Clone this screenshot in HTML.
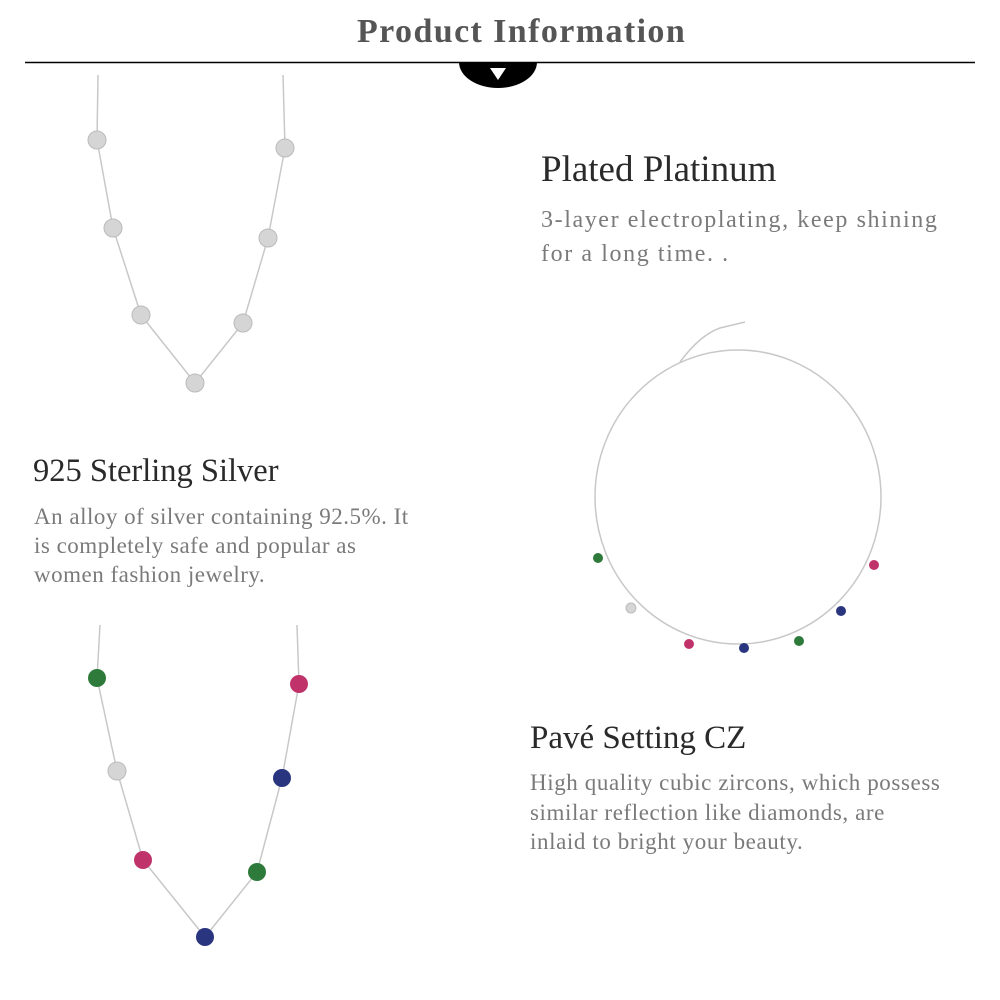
<!DOCTYPE html>
<html><head><style>
body{margin:0;width:1000px;height:1000px;background:#fff;position:relative;overflow:hidden;font-family:"Liberation Serif",serif}
.t{position:absolute;white-space:nowrap}
.h{color:#2a2a2a;font-size:37px}
.b{color:#7a7a7a;font-size:24px;line-height:34px;letter-spacing:1.6px}
</style></head><body>
<div class="t" style="left:357px;top:13px;font-size:34px;letter-spacing:1.4px;font-weight:bold;color:#555">Product Information</div>
<svg width="1000" height="1000" style="position:absolute;left:0;top:0">
<line x1="25" y1="62.5" x2="975" y2="62.5" stroke="#000" stroke-width="1.5"/>
<path d="M459 62 A39 26 0 0 0 537 62 Z" fill="#000"/>
<polygon points="490,68 506,68 498,80" fill="#fff"/>
<g stroke="#c8c8c8" stroke-width="1.5" fill="none">
<polyline points="98,75 97,140 113,228 141,315 195,383 243,323 268,238 285,148 283,75"/>
<polyline points="100,625 97,678 117,771 143,860 205,937 257,872 282,778 299,684 297,625"/>
<ellipse cx="738" cy="497" rx="143" ry="147"/>
<path d="M680 362 Q700 335 720 328 L745 322"/>
</g>
<g fill="#d5d5d5" stroke="#bbb">
<circle cx="97" cy="140" r="9"/><circle cx="113" cy="228" r="9"/><circle cx="141" cy="315" r="9"/><circle cx="195" cy="383" r="9"/><circle cx="243" cy="323" r="9"/><circle cx="268" cy="238" r="9"/><circle cx="285" cy="148" r="9"/>
<circle cx="117" cy="771" r="9"/><circle cx="631" cy="608" r="5"/>
</g>
<circle cx="97" cy="678" r="9" fill="#2e7a3a"/><circle cx="143" cy="860" r="9" fill="#c0336a"/><circle cx="205" cy="937" r="9" fill="#2a3580"/><circle cx="257" cy="872" r="9" fill="#2e7a3a"/><circle cx="282" cy="778" r="9" fill="#2a3580"/><circle cx="299" cy="684" r="9" fill="#c0336a"/>
<circle cx="598" cy="558" r="5" fill="#2e7a3a"/><circle cx="689" cy="644" r="5" fill="#c0336a"/><circle cx="744" cy="648" r="5" fill="#2a3580"/><circle cx="799" cy="641" r="5" fill="#2e7a3a"/><circle cx="841" cy="611" r="5" fill="#2a3580"/><circle cx="874" cy="565" r="5" fill="#c0336a"/>
</svg>
<div class="t h" style="left:541px;top:148px">Plated Platinum</div>
<div class="t b" style="left:541px;top:203px">3-layer electroplating, keep shining<br>for a long time. .</div>
<div class="t h" style="left:33px;top:453px;font-size:32.5px">925 Sterling Silver</div>
<div class="t b" style="left:34px;top:502px;font-size:23px;line-height:29px;letter-spacing:0.5px">An alloy of silver containing 92.5%. It<br>is completely safe and popular as<br>women fashion jewelry.</div>
<div class="t h" style="left:530px;top:720px;font-size:33px">Pavé Setting CZ</div>
<div class="t b" style="left:530px;top:768px;font-size:23px;line-height:29.5px;letter-spacing:0.6px">High quality cubic zircons, which possess<br>similar reflection like diamonds, are<br>inlaid to bright your beauty.</div>
</body></html>
